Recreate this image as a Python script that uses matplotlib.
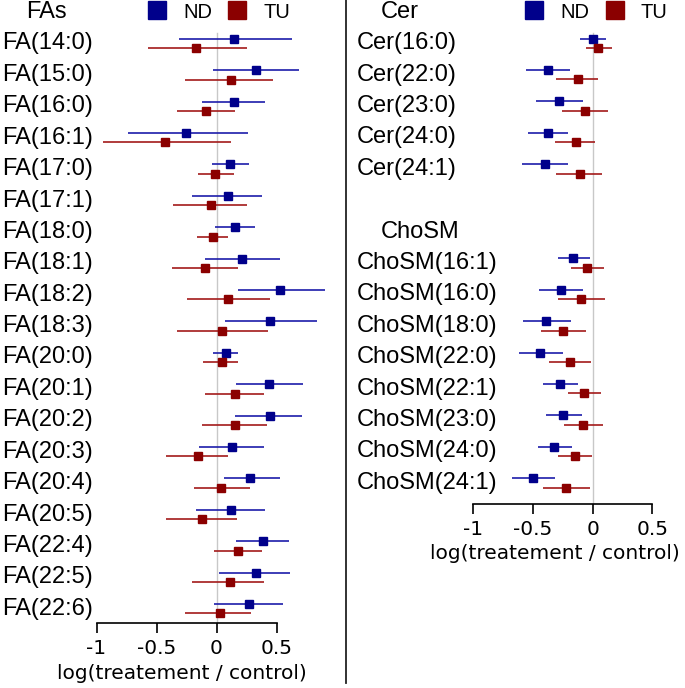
import matplotlib
matplotlib.use('Agg')
import matplotlib.pyplot as plt
from matplotlib.lines import Line2D
from matplotlib.transforms import blended_transform_factory

# values (log ratio, 95% CI)
fa_labels = ['FA(14:0)', 'FA(15:0)', 'FA(16:0)', 'FA(16:1)', 'FA(17:0)', 'FA(17:1)',
             'FA(18:0)', 'FA(18:1)', 'FA(18:2)', 'FA(18:3)', 'FA(20:0)', 'FA(20:1)',
             'FA(20:2)', 'FA(20:3)', 'FA(20:4)', 'FA(20:5)', 'FA(22:4)', 'FA(22:5)', 'FA(22:6)']
fa_nd = [0.144, 0.333, 0.142, -0.258, 0.111, 0.094, 0.156, 0.211, 0.533, 0.444,
         0.075, 0.439, 0.442, 0.128, 0.283, 0.117, 0.386, 0.325, 0.272]
fa_nd_lo = [-0.311, -0.028, -0.119, -0.736, -0.036, -0.208, -0.011, -0.1, 0.175, 0.067,
            -0.028, 0.164, 0.158, -0.144, 0.061, -0.175, 0.164, 0.019, -0.022]
fa_nd_hi = [0.631, 0.689, 0.408, 0.261, 0.269, 0.375, 0.322, 0.533, 0.903, 0.839,
            0.181, 0.719, 0.714, 0.394, 0.525, 0.406, 0.6, 0.611, 0.556]
fa_tu = [-0.172, 0.117, -0.086, -0.428, -0.011, -0.05, -0.033, -0.092, 0.094, 0.044,
         0.042, 0.15, 0.153, -0.156, 0.039, -0.119, 0.175, 0.111, 0.025]
fa_tu_lo = [-0.569, -0.261, -0.331, -0.942, -0.158, -0.364, -0.164, -0.367, -0.244, -0.331,
            -0.111, -0.097, -0.125, -0.419, -0.186, -0.419, -0.022, -0.203, -0.264]
fa_tu_hi = [0.25, 0.467, 0.153, 0.119, 0.142, 0.25, 0.097, 0.181, 0.444, 0.433,
            0.175, 0.397, 0.417, 0.097, 0.283, 0.172, 0.375, 0.394, 0.286]

cer_labels = ['Cer(16:0)', 'Cer(22:0)', 'Cer(23:0)', 'Cer(24:0)', 'Cer(24:1)']
cer_nd = [0.0, -0.375, -0.286, -0.378, -0.4]
cer_nd_lo = [-0.104, -0.557, -0.473, -0.541, -0.591]
cer_nd_hi = [0.112, -0.19, -0.084, -0.21, -0.21]
cer_tu = [0.048, -0.126, -0.062, -0.143, -0.109]
cer_tu_lo = [-0.056, -0.308, -0.255, -0.314, -0.311]
cer_tu_hi = [0.16, 0.045, 0.129, 0.02, 0.078]

sm_labels = ['ChoSM(16:1)', 'ChoSM(16:0)', 'ChoSM(18:0)', 'ChoSM(22:0)',
             'ChoSM(22:1)', 'ChoSM(23:0)', 'ChoSM(24:0)', 'ChoSM(24:1)']
sm_nd = [-0.162, -0.269, -0.389, -0.44, -0.277, -0.249, -0.322, -0.496]
sm_nd_lo = [-0.294, -0.448, -0.585, -0.616, -0.42, -0.389, -0.459, -0.672]
sm_nd_hi = [-0.02, -0.084, -0.185, -0.252, -0.126, -0.092, -0.17, -0.314]
sm_tu = [-0.048, -0.095, -0.246, -0.19, -0.07, -0.081, -0.151, -0.221]
sm_tu_lo = [-0.185, -0.289, -0.434, -0.367, -0.21, -0.238, -0.294, -0.415]
sm_tu_hi = [0.095, 0.1, -0.059, -0.017, 0.073, 0.087, -0.006, -0.025]

xticks = [-1, -0.5, 0, 0.5]
xtick_labels = ['-1', '-0.5', '0', '0.5']
xlabel = 'log(treatement / control)'

ND_C = '#00008b'
TU_C = '#8b0000'
ND_L = '#1c1caa'
TU_L = '#a31a1a'
LAB_FONT = 'Liberation Sans'
W, H = 685, 688
off = 0.15


def draw_group(ax, rows, nd, nd_lo, nd_hi, tu, tu_lo, tu_hi):
    y_nd = [r - off for r in rows]
    y_tu = [r + off for r in rows]
    ax.hlines(y_nd, nd_lo, nd_hi, color=ND_L, lw=1.2, zorder=3)
    ax.hlines(y_tu, tu_lo, tu_hi, color=TU_L, lw=1.2, zorder=3)
    ax.plot(nd, y_nd, 's', color=ND_C, ms=6, zorder=4)
    ax.plot(tu, y_tu, 's', color=TU_C, ms=6, zorder=4)


def style_axis(ax, axis_px, xlab_frac, xlab_top_px):
    ax.set_xticks(xticks)
    ax.set_xticklabels(xtick_labels, fontsize=14.5, family='DejaVu Sans')
    ax.set_yticks([])
    for s in ['top', 'right', 'left']:
        ax.spines[s].set_visible(False)
    ax.spines['bottom'].set_bounds(-1, 0.5)
    ax.spines['bottom'].set_linewidth(1.2)
    ax.tick_params(axis='x', length=7, width=1.2, pad=4)
    ax.set_xlabel(xlabel, fontsize=14.5, family='DejaVu Sans')
    ax.xaxis.set_label_coords(xlab_frac, -(xlab_top_px - axis_px) / axis_px)
    ax.axvline(0, ymin=0, ymax=1 - 33 / axis_px, color='#c8c8c8', lw=1, zorder=1)


def add_labels(ax, labels, rows, x_px):
    tr = blended_transform_factory(ax.figure.transFigure, ax.transData)
    for lab, r in zip(labels, rows):
        ax.text(x_px / W, r, lab, transform=tr, ha='left', va='center',
                fontsize=17, family=LAB_FONT, clip_on=False)


def add_legend(ax, x_px):
    handles = [Line2D([], [], marker='s', ls='none', color=ND_C, ms=13),
               Line2D([], [], marker='s', ls='none', color=TU_C, ms=13)]
    ax.legend(handles, ['ND', 'TU'], ncol=2, frameon=False, loc='center left',
              bbox_to_anchor=(x_px / W, 1 - 12 / H), bbox_transform=ax.figure.transFigure,
              prop={'family': LAB_FONT, 'size': 14.5}, handlelength=1.0, handletextpad=0.8,
              columnspacing=0.75, borderpad=0, borderaxespad=0)


fig = plt.figure(figsize=(W / 100, H / 100), dpi=100)
row_px = 31.4

# left panel: fatty acids
top_l, axis_l = 43.5, 623.3
ax1 = fig.add_axes([96.5 / W, (H - axis_l) / H, 240 / W, axis_l / H])
ax1.set_xlim(-1, 1.0)
ax1.set_ylim((axis_l - top_l) / row_px, -top_l / row_px)
fa_rows = list(range(len(fa_labels)))
draw_group(ax1, fa_rows, fa_nd, fa_nd_lo, fa_nd_hi, fa_tu, fa_tu_lo, fa_tu_hi)
add_labels(ax1, fa_labels, fa_rows, 2)
ax1.text(26 / W, -1, 'FAs', transform=blended_transform_factory(fig.transFigure, ax1.transData),
         ha='left', va='center', fontsize=17, family=LAB_FONT)
style_axis(ax1, axis_l, (182 - 96.5) / 240, 664)
add_legend(ax1, 146.7)

# right panel: ceramides and sphingomyelins
top_r, axis_r = 43.3, 504.3
ax2 = fig.add_axes([473.3 / W, (H - axis_r) / H, 203 / W, axis_r / H])
ax2.set_xlim(-1, 0.7)
ax2.set_ylim((axis_r - top_r) / row_px, -top_r / row_px)
cer_rows = list(range(len(cer_labels)))
sm_rows = [r + len(cer_labels) + 2 for r in range(len(sm_labels))]
draw_group(ax2, cer_rows, cer_nd, cer_nd_lo, cer_nd_hi, cer_tu, cer_tu_lo, cer_tu_hi)
draw_group(ax2, sm_rows, sm_nd, sm_nd_lo, sm_nd_hi, sm_tu, sm_tu_lo, sm_tu_hi)
add_labels(ax2, cer_labels, cer_rows, 356.5)
add_labels(ax2, sm_labels, sm_rows, 356.5)
tr2 = blended_transform_factory(fig.transFigure, ax2.transData)
ax2.text(380.5 / W, -1, 'Cer', transform=tr2, ha='left', va='center', fontsize=17, family=LAB_FONT)
ax2.text(380.5 / W, sm_rows[0] - 1, 'ChoSM', transform=tr2, ha='left', va='center',
         fontsize=17, family=LAB_FONT)
style_axis(ax2, axis_r, (554.5 - 473.3) / 203, 544)
add_legend(ax2, 524.3)

# separator between the panels
fig.add_artist(Line2D([346 / W, 346 / W], [1 - 683 / H, 1], transform=fig.transFigure,
                      color='#222222', lw=1.3))

fig.savefig('out.png', dpi=100)
